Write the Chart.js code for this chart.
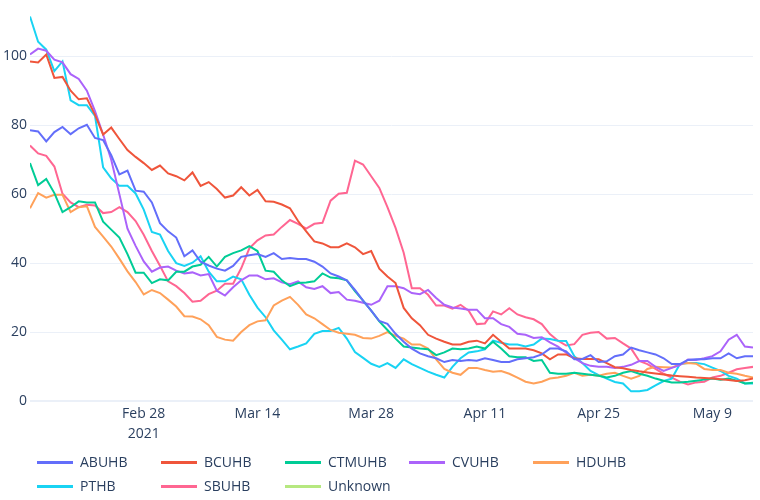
<!DOCTYPE html>
<html>
<head>
<meta charset="utf-8">
<script src="https://cdn.jsdelivr.net/npm/chart.js@4.4.1/dist/chart.umd.min.js"></script>
<style>
  html, body { margin: 0; padding: 0; background: #fff; }
  #wrap { position: relative; width: 760px; height: 500px; }
  #legend { position: absolute; left: 0; top: 0; width: 760px; height: 500px; pointer-events: none;
            font-family: "Open Sans", sans-serif; font-size: 14px; color: #2a3f5f; }
  .item { position: absolute; height: 20px; }
  .item .swatch { position: absolute; left: 0; top: 9px; width: 36px; height: 3px; }
  .item .txt { position: absolute; left: 43px; top: 0; line-height: 20px; white-space: nowrap; }
</style>
</head>
<body>
<div id="wrap">
  <canvas id="myChart" width="760" height="500"></canvas>
  <div id="legend"></div>
</div>
<script>
// day 0 = Feb 14 2021, one value per day up to May 14
const seriesNames = ['ABUHB', 'BCUHB', 'CTMUHB', 'CVUHB', 'HDUHB', 'PTHB', 'SBUHB', 'Unknown'];
const seriesColors = ['#636efa', '#EF553B', '#00cc96', '#ab63fa', '#FFA15A', '#19d3f3', '#FF6692', '#B6E880'];

const tickDays = [14, 28, 42, 56, 70, 84];
const tickLabels = [['Feb 28', '2021'], 'Mar 14', 'Mar 28', 'Apr 11', 'Apr 25', 'May 9'];
const yTicks = [0, 20, 40, 60, 80, 100];

const abuhb = [78.5, 78.2, 75.3, 78, 79.5, 77.4, 79.1, 80.1, 76.3, 75.7, 71.3, 65.7, 66.8, 61, 60.7, 57.6,
  51.6, 49.2, 47.4, 42, 43.7, 40.4, 39.3, 38.4, 37.8, 39.2, 41.8, 42.3, 42.6, 41.8, 42.9, 41.2, 41.5, 41.2,
  41.2, 40.4, 39, 37, 36.1, 35, 32.2, 29.1, 26.2, 23.2, 22.4, 19.5, 17.2, 15.2, 13.8, 13, 12.4, 11.3, 11.9,
  11.6, 11.9, 11.7, 12.4, 11.9, 11.3, 11.3, 12.1, 12.4, 12.7, 13.5, 15.2, 15.2, 14.4, 12.1, 12.2, 13.3, 11.3,
  11.5, 13, 13.5, 15.5, 14.7, 14.1, 13.5, 12.4, 10.7, 10.7, 11.9, 12.1, 12.1, 12.4, 12.4, 13.8, 12.4, 13, 13];
const bcuhb = [98.5, 98.2, 100.5, 93.7, 94, 90, 87.5, 87.8, 83, 77.3, 79.3, 76, 72.8, 70.8, 69, 67, 68.3, 66,
  65.2, 64, 66.3, 62.4, 63.5, 61.5, 59, 59.6, 62, 59.6, 61.2, 57.9, 57.8, 57, 55.9, 52.2, 49.2, 46.3, 45.7,
  44.6, 44.6, 45.7, 44.6, 42.6, 43.5, 38.4, 36.1, 34.2, 27, 24, 22, 19.2, 18.1, 17.2, 16.4, 16.4, 17.2, 17.5,
  16.7, 19.2, 17.2, 15.2, 15.2, 15.2, 14.7, 13.8, 12.1, 13.5, 13.5, 12.4, 12.2, 12.2, 12.1, 11, 9.8, 9.5, 9,
  8.6, 8.3, 8, 7.7, 7.4, 7.2, 7, 6.8, 6.7, 6.5, 6.3, 6.1, 5.8, 6, 6.5];
const ctmuhb = [69, 62.6, 64.4, 60.3, 54.8, 56.2, 57.9, 57.6, 57.6, 52, 49.7, 47.4, 42.6, 37.2, 37.2, 34.2,
  35.3, 35, 37.5, 37.5, 39, 39.5, 41.8, 39, 41.8, 42.9, 43.7, 44.9, 43.5, 37.8, 37.5, 35, 33.3, 34.2, 34.4,
  34.7, 37, 35.8, 35.6, 35, 31.9, 29.1, 26.2, 23.1, 20.6, 18.1, 15.8, 15.5, 15.2, 15, 13.3, 14.1, 15.2, 15,
  15.2, 15.8, 15.2, 17.2, 15.2, 13, 12.7, 12.7, 11.6, 11.9, 8.2, 7.9, 7.9, 8.2, 7.9, 7.6, 7.3, 6.8, 7.3, 8.2,
  8.7, 7.9, 7.3, 6.5, 5.9, 5.4, 5.4, 5.6, 5.9, 6.2, 6.5, 6.2, 6.5, 5.9, 5.1, 5.3];
const cvuhb = [100.5, 102.2, 101.6, 99, 98.2, 94.8, 93.4, 90, 84.1, 77.3, 70, 60, 50, 45, 40.5, 37.5, 38.7,
  39, 37.8, 37, 37.3, 36.4, 36.8, 32, 30.6, 33, 35, 36.4, 36.4, 35.3, 35.6, 34.4, 33.9, 34.7, 33, 32.5, 33.3,
  31.3, 31.6, 29.4, 29.1, 28.5, 27.9, 29.1, 33.3, 33.3, 32.7, 31.3, 31, 32.2, 29.9, 27.9, 27.1, 26.8, 26.5,
  26.5, 24, 24, 22.3, 21.5, 19.5, 19.2, 18.3, 18.5, 17, 15.8, 14, 12.4, 11, 10.2, 9.9, 9.9, 9.6, 9.9, 10.5,
  11.6, 11.6, 9.9, 8.7, 9.6, 10.4, 12, 11.9, 12.4, 13, 14.4, 17.8, 19.2, 15.8, 15.5];
const hduhb = [55.9, 60.3, 59, 59.8, 59.8, 54.8, 56.2, 56.5, 50.5, 47.7, 44.8, 41.3, 37.6, 34.5, 30.9, 32.2,
  31.3, 29.4, 27.4, 24.6, 24.5, 23.7, 22, 18.6, 17.8, 17.5, 20, 22, 23.1, 23.4, 27.7, 29.1, 30.2, 27.9, 25.1,
  24, 22.3, 20.6, 19.8, 19.5, 19.2, 18.3, 18.1, 18.9, 20, 18.9, 18.1, 16.4, 16.4, 15.2, 12.1, 9.3, 8.2, 7.6,
  9.6, 9.6, 9, 8.5, 8.7, 7.9, 6.8, 5.6, 5.1, 5.6, 6.5, 6.8, 7.3, 8.2, 7.3, 7.6, 7.3, 7.9, 8.2, 7.3, 6.5, 7.3,
  9.3, 9.9, 9.8, 9.7, 10.7, 11, 10.8, 9.3, 9, 9, 8.2, 7.9, 7.3, 6.8];
const pthb = [111.5, 104.2, 101.9, 95.7, 98.5, 87.2, 85.8, 85.8, 82.7, 67.8, 64.6, 62.4, 62.4, 60.2, 55.5, 49,
  48.3, 43.5, 40, 39.2, 40.1, 42, 37.5, 34.7, 34.7, 36.1, 35.3, 30.8, 27.1, 24.3, 20.5, 17.8, 15, 15.8, 16.7,
  19.5, 20.3, 20.3, 21.2, 18.1, 14.2, 12.5, 10.8, 9.9, 11, 9.6, 12.1, 10.7, 9.6, 8.5, 7.6, 6.8, 9.9, 12.4,
  14.1, 14.4, 15, 17.5, 16.9, 16.4, 16.4, 15.8, 16.4, 18.1, 18, 17.5, 17.4, 13, 11, 8.7, 7.5, 6.5, 5.5, 5.1,
  2.8, 2.8, 3.2, 4.5, 5.8, 6.5, 10.7, 11, 11, 10.7, 9.7, 8.7, 7.3, 6.5, 5.1, 5.1];
const sbuhb = [74.1, 71.8, 71.1, 68, 60.1, 57.6, 56.2, 56.9, 56.7, 54.5, 54.8, 56.2, 54.8, 52.2, 48.2, 43.5,
  39.2, 34.7, 33.3, 31.3, 28.8, 29.1, 31, 32, 34, 34, 38.5, 44.3, 46.6, 48, 48.3, 50.5, 52.5, 51.4, 50, 51.4,
  51.7, 58.1, 60.1, 60.4, 69.7, 68.6, 65.2, 61.8, 56.2, 50.2, 43, 32.7, 32.7, 30.8, 27.7, 27.7, 26.8, 27.9,
  26.2, 22.3, 22.5, 26, 25.1, 26.9, 25.1, 24.3, 23.7, 22.3, 19.4, 17.5, 16.1, 16.5, 19.2, 19.8, 20, 18.1,
  18.3, 16.7, 15.2, 11.6, 10.7, 9.3, 7.9, 6.8, 5.6, 4.8, 5.4, 5.6, 6.8, 7.3, 8.2, 9.2, 9.6, 9.9];
const unknown = [];

const seriesValues = [abuhb, bcuhb, ctmuhb, cvuhb, hduhb, pthb, sbuhb, unknown];

document.addEventListener('DOMContentLoaded', () => {
  var ctx = document.getElementById('myChart');

  const datasets = seriesNames.map((name, k) => ({
    label: name,
    data: seriesValues[k].map((v, i) => ({ x: i, y: v })),
    borderColor: seriesColors[k],
    backgroundColor: seriesColors[k],
    borderWidth: 2,
    pointRadius: 0,
    tension: 0,
    fill: false,
  }));

  const tickFont = { family: '"Open Sans", sans-serif', size: 14 };

  new Chart(ctx, {
    type: 'line',
    data: { datasets: datasets },
    options: {
      responsive: false,
      animation: false,
      layout: { padding: { top: 0, right: 7, bottom: 55, left: 0 } },
      plugins: { legend: { display: false }, tooltip: { enabled: false } },
      scales: {
        x: {
          type: 'linear',
          min: 0,
          max: 89,
          grid: { display: false, drawTicks: false },
          border: { display: false },
          afterBuildTicks: scale => { scale.ticks = tickDays.map(d => ({ value: d })); },
          afterFit: scale => { scale.height = 44; },
          ticks: {
            padding: 3,
            color: '#2a3f5f',
            font: Object.assign({ lineHeight: 1.45 }, tickFont),
            maxRotation: 0,
            autoSkip: false,
            callback: v => tickLabels[tickDays.indexOf(v)],
          },
        },
        y: {
          min: 0,
          max: 113,
          grid: {
            color: '#EBF0F8',
            lineWidth: c => (c.tick && c.tick.value === 0 ? 2 : 1),
            drawTicks: false,
          },
          border: { display: false },
          afterBuildTicks: scale => { scale.ticks = yTicks.map(v => ({ value: v })); },
          afterFit: scale => { scale.width = 30; },
          ticks: { padding: 3, color: '#2a3f5f', font: tickFont },
        },
      },
    },
  });

  // legend, laid out like the original two rows of five columns
  var legend = document.getElementById('legend');
  seriesNames.forEach((name, k) => {
    var item = document.createElement('div');
    item.className = 'item';
    item.style.left = (37 + (k % 5) * 124) + 'px';
    item.style.top = (452 + Math.floor(k / 5) * 24) + 'px';
    item.innerHTML = '<div class="swatch" style="background:' + seriesColors[k] + '"></div>' +
      '<div class="txt">' + name + '</div>';
    legend.appendChild(item);
  });
});
</script>
</body>
</html>
